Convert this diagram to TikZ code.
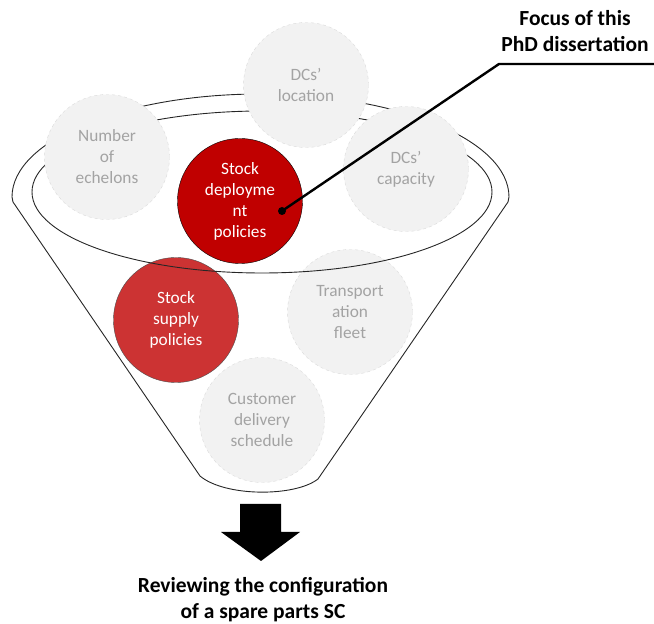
\documentclass[tikz,border=0pt]{standalone}
\usepackage{fontspec}
\setmainfont{Carlito}
\usetikzlibrary{positioning}
\definecolor{circfill}{HTML}{F2F2F2}
\definecolor{circline}{HTML}{DADADA}
\definecolor{circtext}{HTML}{A3A3A3}
\definecolor{deepred}{HTML}{C00000}
\definecolor{softred}{HTML}{CC3333}
\newcommand{\circfont}{\fontsize{17.3}{21}\selectfont}
\newcommand{\labelfont}{\fontsize{21.5}{26}\selectfont\bfseries}
\tikzset{grey node/.style={circle,fill=circfill,draw=circline,dashed,thin,minimum size=125pt,inner sep=0pt,text=circtext,align=center,font=\circfont},
         focus node/.style={circle,fill=deepred,draw=black,thin,minimum size=125pt,inner sep=0pt,text=white,align=center,font=\circfont},
         supply node/.style={focus node,fill=softred,draw=black!70},
         edge label/.style={rectangle,draw=none,fill=none,inner sep=0pt,align=center,font=\labelfont},
         funnel/.style={black!85,line width=0.9pt},
         pin/.style={circle,fill=black,minimum size=8pt,inner sep=0pt},
         pointer/.style={black,line width=2.4pt},
}
\begin{document}
\begin{tikzpicture}[x=1pt,y=1pt]
\useasboundingbox (0,0) rectangle (654,624);
% lower circles sit under the rim
\node[supply node] (supply) at (176,304) {Stock\\supply\\policies};
\node[grey node] (fleet) at (350,312) {Transport\\ation\\fleet};
\node[grey node] (delivery) at (262,204) {Customer\\delivery\\schedule};
% funnel
\draw[funnel] (200,148) -- (13,422) -- (12,427)
    arc[start angle=180,end angle=0,x radius=248.5,y radius=103]
    -- (508,422) -- (318,145) .. controls (295,127) and (225,127) .. cycle;
\draw[funnel] (262,432) ellipse [x radius=230, y radius=81];
% upper circles
\node[grey node] (echelons) at (107,467) {Number\\of\\echelons};
\node[grey node] (location) at (306,539) {DCs’\\location};
\node[grey node] (capacity) at (406,455) {DCs’\\capacity};
\node[focus node] (deployment) at (240,423) {Stock\\deployme\\nt\\policies};
% pointer
\node[edge label,anchor=north] (focus) at (575,614) {Focus of this\\PhD dissertation};
\node[pin] (dot) at (282,413) {};
\coordinate (bend) at (499,560);
\coordinate (rim) at (654,560);
\draw[pointer] (dot.center) -- (bend) -- (rim);
% outcome
\fill (240,120) -- (281,120) -- (281,92) -- (300,92) -- (261,63) -- (221,92) -- (240,92) -- cycle;
\node[edge label,anchor=north] (result) at (263,47) {Reviewing the configuration\\of a spare parts SC};
\end{tikzpicture}
\end{document}
